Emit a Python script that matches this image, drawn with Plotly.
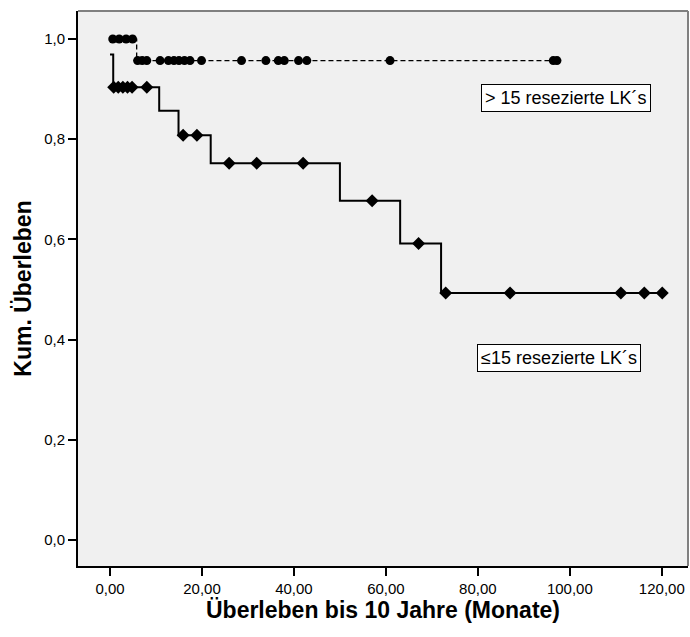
import plotly.graph_objects as go

# ---- data ----
# group "> 15 resezierte LK's" (circles, dashed)
gt15_event_t = [0.0, 5.8, 97.2]
gt15_event_s = [1.0, 0.957, 0.957]
gt15_cens_t = [0.6, 2.0, 3.5, 4.9, 6.0, 7.0, 8.0, 10.9, 12.7, 13.9, 15.0, 16.2,
               17.4, 19.9, 28.6, 33.9, 36.6, 37.9, 41.0, 42.8, 60.9, 96.4, 97.2]

# group "≤15 resezierte LK's" (diamonds, solid)
le15_event_t = [0.0, 0.7, 10.7, 14.9, 21.9, 50.0, 63.1, 72.0, 120.1]
le15_event_s = [0.969, 0.904, 0.857, 0.808, 0.752, 0.677, 0.592, 0.493, 0.493]
le15_cens_t = [0.8, 1.8, 2.8, 3.8, 4.8, 8.0, 15.9, 18.9, 25.9, 31.9, 42.0,
               57.0, 67.1, 73.0, 87.0, 111.1, 116.2, 120.1]

x_ticks = [0, 20, 40, 60, 80, 100, 120]
y_ticks = [0.0, 0.2, 0.4, 0.6, 0.8, 1.0]
label_gt15 = "> 15 resezierte LK´s"
label_le15 = "≤15 resezierte LK´s"


def step_value(t, times, surv):
    val = surv[0]
    for ti, si in zip(times, surv):
        if ti <= t:
            val = si
    return val


gt15_cens_s = [step_value(t, gt15_event_t, gt15_event_s) for t in gt15_cens_t]
le15_cens_s = [step_value(t, le15_event_t, le15_event_s) for t in le15_cens_t]

FONT = "Liberation Sans, Arial, sans-serif"

fig = go.Figure()
fig.add_trace(go.Scatter(x=gt15_event_t, y=gt15_event_s, mode="lines",
                         line=dict(color="black", width=1.3, dash="5px,3px", shape="hv"),
                         hoverinfo="skip", showlegend=False))
fig.add_trace(go.Scatter(x=le15_event_t, y=le15_event_s, mode="lines",
                         line=dict(color="black", width=2, shape="hv"),
                         hoverinfo="skip", showlegend=False))
fig.add_trace(go.Scatter(x=gt15_cens_t, y=gt15_cens_s, mode="markers",
                         marker=dict(symbol="circle", size=9, color="black"),
                         showlegend=False))
fig.add_trace(go.Scatter(x=le15_cens_t, y=le15_cens_s, mode="markers",
                         marker=dict(symbol="diamond", size=10, color="black"),
                         showlegend=False))

fig.add_annotation(x=99.2, y=0.882, xref="x", yref="y", text=label_gt15,
                   showarrow=False, font=dict(family=FONT, size=18, color="black"),
                   bgcolor="white", bordercolor="black", borderwidth=1, borderpad=3)
fig.add_annotation(x=97.7, y=0.363, xref="x", yref="y", text=label_le15,
                   showarrow=False, font=dict(family=FONT, size=18, color="black"),
                   bgcolor="white", bordercolor="black", borderwidth=1, borderpad=3)

# grey top / right frame
fig.add_shape(type="line", xref="paper", yref="paper", x0=0, x1=1, y0=1, y1=1,
              line=dict(color="#808080", width=2))
fig.add_shape(type="line", xref="paper", yref="paper", x0=1, x1=1, y0=0, y1=1,
              line=dict(color="#808080", width=2))

fig.update_layout(
    width=690, height=637,
    margin=dict(l=78, r=2, t=11, b=71),
    paper_bgcolor="white", plot_bgcolor="#f0f0f0",
    separators=",.",
    font=dict(family=FONT, color="black"),
    showlegend=False,
)
fig.update_xaxes(range=[-6.96, 125.7], tickvals=x_ticks, tickformat=".2f",
                 showgrid=False, zeroline=False,
                 showline=True, linecolor="black", linewidth=2,
                 ticks="outside", ticklen=8, tickwidth=2, tickcolor="black",
                 tickfont=dict(family=FONT, size=15, color="black"),
                 title=dict(text="<b>Überleben bis 10 Jahre (Monate)</b>",
                            font=dict(family=FONT, size=23, color="black"), standoff=2))
fig.update_yaxes(range=[-0.052, 1.056], tickvals=y_ticks, tickformat=".1f",
                 showgrid=False, zeroline=False,
                 showline=True, linecolor="black", linewidth=2,
                 ticks="outside", ticklen=8, tickwidth=2, tickcolor="black",
                 tickfont=dict(family=FONT, size=15, color="black"),
                 title=dict(text="<b>Kum. Überleben</b>",
                            font=dict(family=FONT, size=23, color="black"), standoff=6))

fig.write_html("out.html")
